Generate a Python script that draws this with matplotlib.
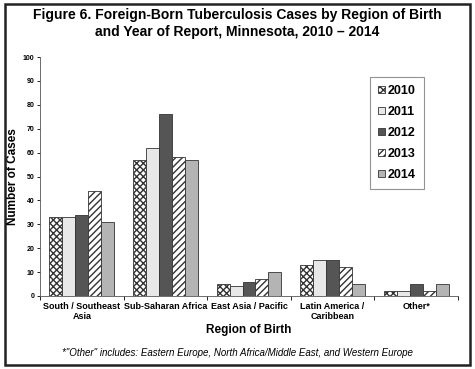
import matplotlib.pyplot as plt
from matplotlib.patches import Rectangle
import numpy as np

plt.rcParams['font.family'] = ['Liberation Sans', 'DejaVu Sans']
plt.rcParams['hatch.linewidth'] = 1.0

# Data
regions = ["South / Southeast\nAsia", "Sub-Saharan Africa", "East Asia / Pacific",
           "Latin America /\nCaribbean", "Other*"]
years = ["2010", "2011", "2012", "2013", "2014"]
cases = {
    "2010": [33, 57, 5, 13, 2],
    "2011": [33, 62, 4, 15, 2],
    "2012": [34, 76, 6, 15, 5],
    "2013": [44, 58, 7, 12, 2],
    "2014": [31, 57, 10, 5, 5],
}
faces = ['white', '#e8e8e8', '#555555', 'white', '#b4b4b4']
hatches = ['xxxxx', None, None, '/////', None]

fig = plt.figure(figsize=(4.75, 3.69), dpi=100)
ax = fig.add_axes([40 / 475, 1 - 296 / 369, 418 / 475, 239 / 369])

x = np.arange(len(regions))
w = 0.155
for i, yr in enumerate(years):
    ax.bar(x + (i - 2) * w, cases[yr], w, color=faces[i], edgecolor='#333333',
           linewidth=0.6, hatch=hatches[i], label=yr)

ax.set_xlim(-0.5, len(regions) - 0.5)
ax.set_ylim(0, 100)
ax.set_yticks(range(0, 101, 10))
ax.tick_params(axis='y', labelsize=5, length=2, width=0.6, pad=2)
for t in ax.get_yticklabels():
    t.set_fontweight('bold')
ax.set_xticks(np.arange(-0.5, len(regions), 1), minor=False)
ax.set_xticklabels([])
ax.set_xticks(x, minor=True)
ax.set_xticklabels(regions, minor=True, fontsize=6.5, fontweight='bold')
ax.tick_params(axis='x', which='minor', length=0, pad=4)
ax.tick_params(axis='x', which='major', length=3, width=0.6)

ax.spines['top'].set_visible(False)
ax.spines['right'].set_visible(False)
ax.spines['left'].set_linewidth(0.6)
ax.spines['bottom'].set_linewidth(0.6)
ax.spines['left'].set_color('#555555')
ax.spines['bottom'].set_color('#555555')

ax.set_ylabel('Number of Cases', fontsize=8.5, fontweight='bold', labelpad=3)
ax.set_xlabel('Region of Birth', fontsize=8.5, fontweight='bold', labelpad=2)

leg = ax.legend(loc='upper left', bbox_to_anchor=(330 / 418, (296 - 77) / 239),
                prop={'weight': 'bold', 'size': 9}, frameon=True,
                fancybox=False, edgecolor='#777777', handlelength=0.55,
                handleheight=0.55, handletextpad=0.2, labelspacing=0.72,
                borderpad=0.65, borderaxespad=0)
leg.get_frame().set_linewidth(0.8)

fig.text(0.5, 1 - 8 / 369, 'Figure 6. Foreign-Born Tuberculosis Cases by Region of Birth\n'
         'and Year of Report, Minnesota, 2010 \u2013 2014',
         ha='center', va='top', fontsize=10, fontweight='bold', linespacing=1.3)
fig.text(0.5, 1 - 353 / 369, '*"Other" includes: Eastern Europe, North Africa/Middle East, '
         'and Western Europe', ha='center', va='center', fontsize=7, style='italic')

fig.patches.append(Rectangle((5 / 475, 4 / 369), 465 / 475, 361 / 369,
                             transform=fig.transFigure, fill=False,
                             edgecolor='#222222', linewidth=1.8))

fig.savefig('out.png', dpi=100)
